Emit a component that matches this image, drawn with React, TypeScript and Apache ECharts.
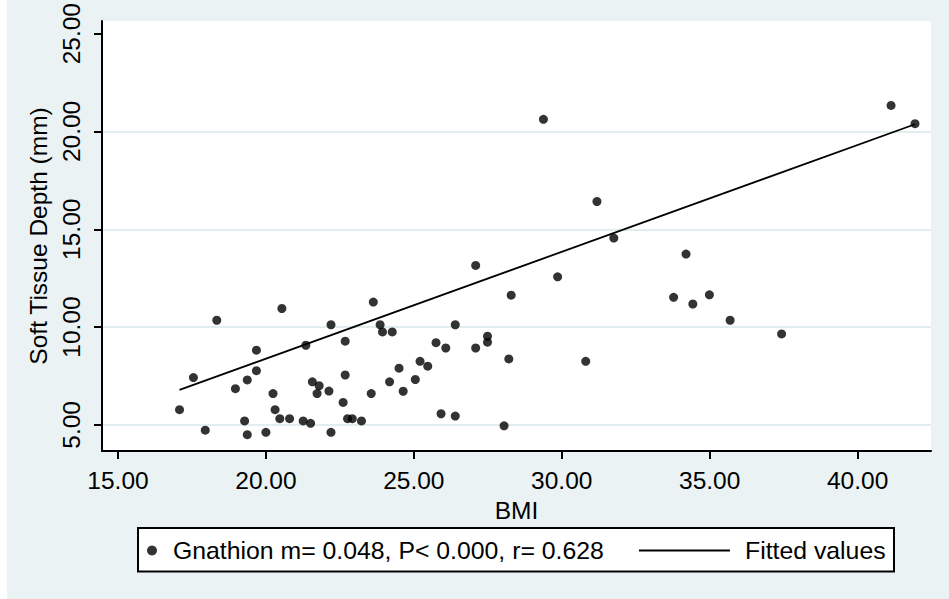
import React, { useEffect, useRef } from 'react';
import * as echarts from 'echarts';

// BMI (x) and soft tissue depth in mm (y)
const bmi = [
  17.08, 17.95, 17.55, 18.34, 18.97, 19.37, 19.28, 19.37, 19.68, 19.68,
  20.0, 20.24, 20.31, 20.47, 20.8, 20.54, 21.35, 21.26, 21.51, 21.57,
  21.8, 21.73, 22.13, 22.2, 22.68, 22.68, 22.61, 22.2, 22.76, 22.92,
  23.23, 23.56, 23.63, 23.86, 23.94, 24.27, 24.18, 24.5, 26.4, 25.75,
  26.08, 27.09, 27.09, 27.49, 27.49, 28.29, 28.21, 28.05, 29.38, 29.86,
  30.81, 31.19, 31.76, 33.78, 25.05, 24.64, 25.21, 25.47, 25.92, 26.4,
  34.2, 34.43, 34.99, 35.69, 37.43, 41.13, 41.94,
];
const depth = [
  5.78, 4.73, 7.42, 10.35, 6.85, 7.3, 5.2, 4.5, 8.82, 7.77,
  4.62, 6.6, 5.78, 5.32, 5.32, 10.95, 9.07, 5.2, 5.08, 7.2,
  7.0, 6.6, 6.73, 10.12, 9.28, 7.55, 6.15, 4.62, 5.32, 5.32,
  5.2, 6.6, 11.28, 10.12, 9.75, 9.75, 7.2, 7.9, 10.12, 9.2,
  8.93, 13.15, 8.93, 9.53, 9.23, 11.63, 8.37, 4.95, 20.62, 12.57,
  8.25, 16.42, 14.55, 11.52, 7.32, 6.72, 8.25, 8.0, 5.57, 5.45,
  13.73, 11.18, 11.65, 10.35, 9.65, 21.33, 20.4,
];

// Fitted line end points
const fitX = [17.08, 41.94];
const fitY = [6.79, 20.37];

// Axis ticks
const xTicks = [15, 20, 25, 30, 35, 40];
const yTicks = [5, 10, 15, 20, 25];

const scatterName = 'Gnathion m= 0.048, P< 0.000, r= 0.628';
const fitName = 'Fitted values';
const xTitle = 'BMI';
const yTitle = 'Soft Tissue Depth (mm)';

const FONT = '"Liberation Sans", Arial, sans-serif';
const FS = 24.5;
const LFS = 24.8;
const BG = '#eaf2f3';
const GRID = '#e3ecee';

export default function App() {
  const ref = useRef<HTMLDivElement>(null);
  useEffect(() => {
    const chart = echarts.init(ref.current as HTMLDivElement, null, { renderer: 'svg' });
    const scatterData = bmi.map((x, i) => [x, depth[i]]);
    const fitData = fitX.map((x, i) => [x, fitY[i]]);
    const option: any = {
      animation: false,
      backgroundColor: BG,
      textStyle: { fontFamily: FONT },
      grid: {
        left: 102,
        right: 18,
        top: 11,
        bottom: 148,
        show: true,
        backgroundColor: '#ffffff',
        borderWidth: 0,
      },
      xAxis: {
        type: 'value',
        min: 14.46,
        max: 42.48,
        name: xTitle,
        nameLocation: 'middle',
        nameGap: 38,
        nameTextStyle: { fontSize: FS, color: '#000', fontFamily: FONT },
        axisLine: { show: true, onZero: false, lineStyle: { color: '#000', width: 2 } },
        axisTick: { show: true, length: 8, lineStyle: { color: '#000', width: 2 }, customValues: xTicks },
        axisLabel: {
          customValues: xTicks,
          formatter: (v: number) => v.toFixed(2),
          fontSize: FS,
          color: '#000',
          fontFamily: FONT,
          margin: 17,
        },
        splitLine: { show: false },
      },
      yAxis: {
        type: 'value',
        min: 3.665,
        max: 25.65,
        name: yTitle,
        nameLocation: 'middle',
        nameGap: 47,
        nameRotate: 90,
        nameTextStyle: { fontSize: FS, color: '#000', fontFamily: FONT },
        axisLine: { show: true, onZero: false, lineStyle: { color: '#000', width: 2 } },
        axisTick: { show: true, length: 8, lineStyle: { color: '#000', width: 2 }, customValues: yTicks },
        axisLabel: {
          customValues: yTicks,
          formatter: (v: number) => v.toFixed(2),
          rotate: 90,
          fontSize: FS,
          color: '#000',
          fontFamily: FONT,
          margin: 18,
        },
        splitLine: {
          show: true,
          lineStyle: { color: [GRID, GRID, GRID, GRID, 'rgba(0,0,0,0)'], width: 2 },
        },
      },
      legend: [
        {
          data: [scatterName],
          left: 147,
          top: 538,
          padding: 0,
          itemWidth: 10,
          itemHeight: 10,
          selectedMode: false,
          textStyle: { fontSize: LFS, lineHeight: 24, color: '#000', fontFamily: FONT, padding: [0, 0, 0, 11] },
        },
        {
          data: [{ name: fitName, icon: 'rect' }],
          left: 639,
          top: 538,
          padding: 0,
          itemWidth: 91,
          itemHeight: 2,
          selectedMode: false,
          itemStyle: { color: '#000' },
          textStyle: { fontSize: LFS, lineHeight: 24, color: '#000', fontFamily: FONT, padding: [0, 0, 0, 10] },
        },
      ],
      graphic: [
        { type: 'rect', left: 0, top: 0, z: -1, shape: { width: 7, height: 599 }, style: { fill: '#ffffff' } },
        {
          type: 'rect',
          z: -1,
          shape: { x: 138, y: 528, width: 756, height: 43.5 },
          style: { fill: '#ffffff', stroke: '#000', lineWidth: 2 },
        },
      ],
      series: [
        {
          name: scatterName,
          type: 'scatter',
          data: scatterData,
          symbol: 'circle',
          symbolSize: 9,
          itemStyle: { color: '#000' },
        },
        {
          name: fitName,
          type: 'line',
          data: fitData,
          symbol: 'none',
          lineStyle: { color: '#000', width: 1.8 },
          itemStyle: { color: '#000' },
        },
      ],
    };
    chart.setOption(option);
    return () => chart.dispose();
  }, []);
  return <div ref={ref} style={{ position: 'fixed', left: 0, top: 0, width: 949, height: 599 }} />;
}
